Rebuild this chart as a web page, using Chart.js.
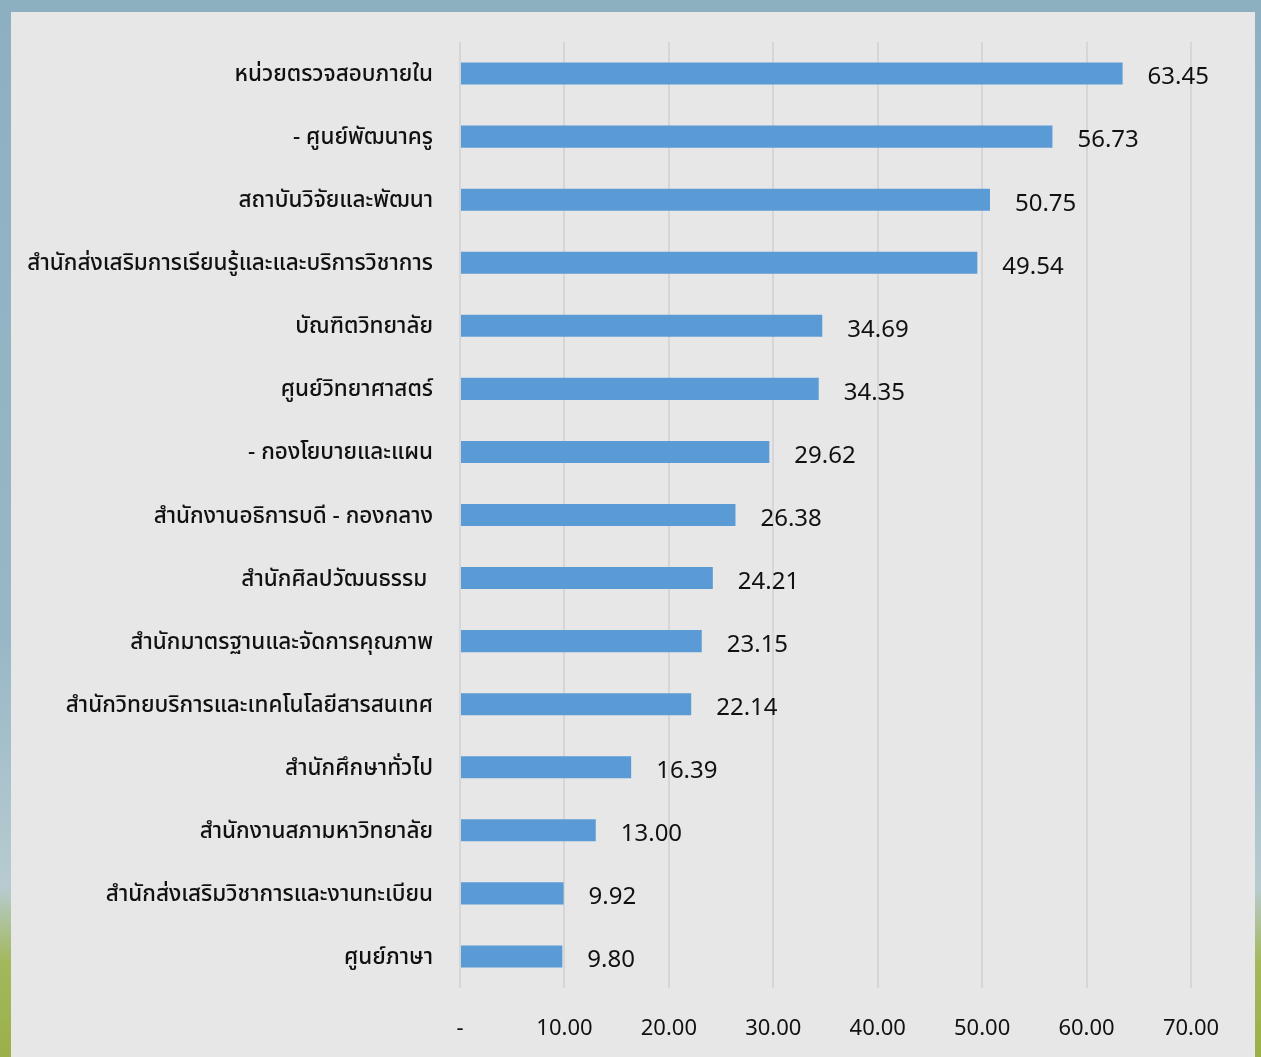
<!DOCTYPE html>
<html>
<head>
<meta charset="utf-8">
<script src="https://cdn.jsdelivr.net/npm/chart.js@4"></script>
<style>
html,body{margin:0;padding:0;}
body{width:1261px;height:1057px;overflow:hidden;position:relative;
background:linear-gradient(to bottom,#8db0c1 0%,#98b7c6 60%,#b7cbd0 84%,#a3b85c 91%,#9bb04a 100%);}
#panel{position:absolute;left:11px;top:12px;width:1244px;height:1045px;background:#e7e7e7;}
#chart{position:absolute;left:0;top:0;}
</style>
</head>
<body>
<div id="panel"><canvas id="chart" width="1244" height="1045"></canvas></div>
<script>
const units = [
"หน่วยตรวจสอบภายใน",
"- ศูนย์พัฒนาครู",
"สถาบันวิจัยและพัฒนา",
"สำนักส่งเสริมการเรียนรู้และและบริการวิชาการ",
"บัณฑิตวิทยาลัย",
"ศูนย์วิทยาศาสตร์",
"- กองโยบายและแผน",
"สำนักงานอธิการบดี - กองกลาง",
"สำนักศิลปวัฒนธรรม ",
"สำนักมาตรฐานและจัดการคุณภาพ",
"สำนักวิทยบริการและเทคโนโลยีสารสนเทศ",
"สำนักศึกษาทั่วไป",
"สำนักงานสภามหาวิทยาลัย",
"สำนักส่งเสริมวิชาการและงานทะเบียน",
"ศูนย์ภาษา"
];

const scores = [63.45,56.73,50.75,49.54,34.69,34.35,29.62,26.38,24.21,23.15,22.14,16.39,13.00,9.92,9.80];

const xMin = 0, xMax = 70, xStep = 10;

const font = "'Noto Sans Thai','Noto Sans','Open Sans',sans-serif";

// ---------- value labels ----------
const valueLabels = {
id:"valueLabels",
afterDatasetsDraw(chart){
const c = chart.ctx;
const meta = chart.getDatasetMeta(0);
c.save();
c.font = "24px " + font;
c.fillStyle = "#111";
c.textAlign = "left";
c.textBaseline = "middle";
meta.data.forEach((bar,i)=>{
c.fillText(scores[i].toFixed(2), bar.x + 25, bar.y + 6);
});
c.restore();
}
};

const ctx = document.getElementById("chart").getContext("2d");

const chart = new Chart(ctx,{
type:"bar",
data:{
labels:units,
datasets:[{
data:scores,
backgroundColor:"#5b9bd5",
categoryPercentage:1,
barPercentage:0.35
}]
},
options:{
indexAxis:"y",
responsive:false,
animation:false,
layout:{padding:{top:30,right:64,left:0,bottom:0}},
plugins:{legend:{display:false},tooltip:{enabled:false}},
scales:{
x:{
min:xMin,max:xMax,
grid:{color:"#d6d6d6",lineWidth:2,drawTicks:false},
border:{display:false},
ticks:{
stepSize:xStep,
padding:29,
color:"#111",
font:{family:font,size:22},
callback:v=>v===0?"-":v.toFixed(2)
},
afterFit:s=>{s.height=69;s.paddingLeft=0;s.paddingRight=0;}
},
y:{
grid:{display:false,drawTicks:false},
border:{display:false},
ticks:{
padding:27,
labelOffset:3,
color:"#111",
font:{family:font,size:22.5,weight:"500"}
},
afterFit:s=>{s.width=449;s.paddingTop=0;s.paddingBottom=0;}
}
}
},
plugins:[valueLabels]
});
</script>
</body>
</html>
